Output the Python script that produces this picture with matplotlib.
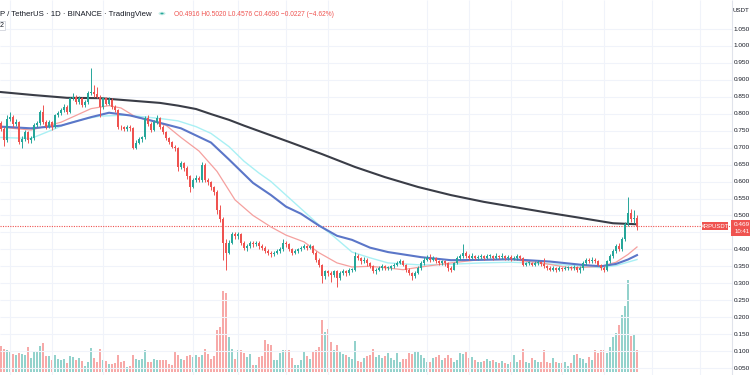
import matplotlib
matplotlib.use('Agg')
import matplotlib.pyplot as plt
from matplotlib.patches import Rectangle, Circle

# XRPUSDT daily candles, oldest first; each open is the previous close
first_open = 0.772
closes = [
    .755, .722, .785, .790, .770, .775, .718, .725, .745, .722,
    .727, .767, .772, .806, .776, .762, .776, .762, .796, .801,
    .811, .821, .806, .845, .850, .835, .845, .826, .835, .860,
    .865, .858, .850, .821, .845, .830, .842, .821, .811, .762,
    .760, .755, .760, .757, .700, .715, .725, .730, .786, .771,
    .752, .776, .786, .762, .747, .727, .717, .703, .698, .644,
    .654, .640, .615, .585, .605, .610, .605, .650, .605, .598,
    .583, .570, .516, .490, .418, .390, .420, .445, .438, .445,
    .420, .405, .410, .420, .415, .420, .410, .405, .395, .390,
    .385, .390, .395, .400, .420, .415, .400, .390, .395, .400,
    .405, .410, .405, .410, .390, .370, .355, .320, .335, .330,
    .325, .335, .315, .330, .335, .330, .340, .340, .380, .375,
    .365, .370, .360, .350, .335, .340, .345, .350, .345, .345,
    .350, .355, .360, .365, .355, .340, .330, .320, .330, .345,
    .360, .370, .375, .370, .375, .365, .360, .365, .360, .345,
    .340, .360, .375, .380, .390, .380, .375, .380, .375, .378,
    .380, .375, .380, .380, .375, .380, .378, .380, .375, .378,
    .372, .375, .380, .375, .355, .360, .360, .355, .360, .362,
    .358, .350, .345, .340, .345, .340, .345, .343, .345, .347,
    .345, .348, .340, .345, .360, .370, .365, .370, .365, .355,
    .345, .340, .365, .380, .395, .410, .400, .430, .475, .507,
    .490, .4917, .469,
]
highs = [
    .780, .760, .795, .805, .795, .785, .778, .735, .752, .750,
    .735, .772, .780, .812, .825, .782, .782, .780, .800, .808,
    .818, .828, .826, .850, .862, .855, .852, .850, .842, .866,
    .934, .885, .880, .855, .850, .850, .848, .846, .826, .815,
    .768, .765, .766, .768, .760, .722, .730, .735, .792, .795,
    .776, .782, .795, .790, .766, .750, .732, .720, .708, .702,
    .662, .658, .645, .620, .610, .618, .615, .658, .655, .610,
    .602, .588, .575, .530, .495, .430, .428, .452, .450, .450,
    .448, .425, .415, .425, .425, .426, .424, .415, .410, .400,
    .395, .396, .400, .406, .432, .425, .418, .404, .400, .405,
    .410, .416, .414, .416, .414, .394, .374, .358, .340, .340,
    .336, .340, .338, .336, .342, .340, .345, .346, .392, .386,
    .378, .376, .374, .364, .354, .345, .350, .356, .355, .350,
    .355, .360, .366, .372, .368, .358, .344, .334, .336, .350,
    .365, .376, .382, .385, .380, .378, .370, .370, .368, .362,
    .350, .364, .380, .386, .415, .395, .385, .390, .384, .383,
    .386, .384, .385, .386, .384, .388, .384, .390, .384, .383,
    .382, .380, .385, .384, .378, .364, .365, .363, .366, .368,
    .366, .375, .354, .350, .350, .348, .350, .349, .350, .352,
    .350, .353, .350, .350, .365, .375, .374, .376, .374, .368,
    .358, .350, .370, .386, .400, .415, .418, .435, .480, .553,
    .520, .515, .502,
]
lows = [
    .748, .705, .718, .778, .762, .765, .712, .700, .720, .715,
    .715, .724, .760, .768, .770, .755, .758, .752, .758, .790,
    .796, .805, .800, .802, .840, .830, .830, .820, .820, .830,
    .855, .850, .845, .791, .815, .825, .825, .815, .805, .755,
    .752, .750, .750, .750, .695, .695, .710, .718, .725, .765,
    .745, .748, .770, .755, .740, .722, .710, .698, .690, .630,
    .638, .632, .608, .570, .580, .600, .598, .600, .600, .590,
    .575, .560, .505, .480, .369, .339, .385, .415, .430, .430,
    .412, .398, .395, .405, .408, .410, .402, .398, .388, .383,
    .378, .380, .385, .390, .396, .408, .395, .384, .385, .390,
    .396, .400, .398, .400, .385, .364, .348, .300, .312, .322,
    .305, .318, .290, .310, .325, .322, .325, .332, .336, .368,
    .358, .360, .352, .345, .330, .328, .335, .340, .338, .338,
    .340, .345, .350, .356, .350, .334, .324, .310, .316, .326,
    .340, .355, .365, .364, .365, .360, .354, .355, .352, .335,
    .334, .338, .356, .370, .375, .374, .370, .372, .370, .370,
    .372, .370, .372, .374, .370, .372, .372, .373, .370, .370,
    .366, .368, .370, .370, .350, .350, .354, .350, .350, .355,
    .352, .345, .340, .335, .336, .334, .336, .337, .338, .340,
    .340, .340, .334, .330, .340, .355, .360, .360, .360, .350,
    .340, .332, .336, .360, .375, .390, .395, .396, .425, .468,
    .482, .478, .4576,
]
volumes = [
    26, 23, 22, 21, 18, 17, 19, 18, 17, 25,
    14, 20, 20, 26, 29, 16, 16, 12, 17, 13,
    12, 13, 9, 16, 15, 12, 14, 11, 6, 10,
    24, 14, 10, 23, 12, 11, 8, 8, 9, 17,
    10, 11, 5, 6, 17, 13, 12, 13, 22, 10,
    10, 13, 12, 12, 12, 12, 8, 7, 20, 17,
    13, 12, 16, 17, 15, 17, 15, 17, 23, 18,
    13, 16, 42, 45, 81, 79, 35, 23, 13, 22,
    22, 19, 15, 18, 7, 7, 15, 16, 32, 28,
    27, 12, 12, 19, 22, 22, 22, 14, 7, 7,
    12, 21, 16, 13, 20, 22, 25, 52, 40, 43,
    30, 22, 27, 20, 18, 17, 15, 13, 31, 11,
    10, 14, 16, 17, 23, 15, 17, 14, 16, 19,
    14, 12, 19, 10, 13, 13, 19, 18, 20, 21,
    17, 14, 10, 10, 14, 15, 17, 12, 14, 17,
    14, 10, 12, 19, 18, 20, 14, 15, 12, 10,
    10, 11, 13, 11, 12, 10, 9, 11, 9, 8,
    10, 17, 10, 12, 23, 10, 9, 14, 12, 10,
    10, 22, 10, 9, 14, 10, 9, 9, 10, 6,
    9, 17, 18, 14, 13, 9, 15, 12, 22, 19,
    22, 22, 19, 25, 35, 39, 47, 57, 66, 92,
    36, 38, 22,
]

# moving averages at a few candle positions
ma200_idx = [0, 11, 22, 33, 43, 53, 59, 65, 70, 76, 81, 86, 96, 107, 118, 128, 139, 150, 161, 171, 181, 193, 204, 212]
ma200 = [.864, .855, .847, .846, .839, .832, .824, .814, .799, .782, .765, .749, .717, .681, .643, .613, .584, .560, .540, .525, .510, .493, .477, .474]

ma50_idx = [0, 10, 20, 30, 36, 43, 50, 60, 70, 76, 84, 90, 95, 100, 106, 112, 117, 123, 129, 140, 150, 160, 170, 183, 194, 200, 205, 209, 212]
ma50 = [.762, .757, .765, .790, .803, .795, .780, .757, .715, .665, .596, .560, .526, .505, .470, .440, .428, .405, .392, .377, .368, .369, .371, .364, .354, .350, .357, .370, .383]

ma100_idx = [0, 10, 17, 22, 27, 33, 42, 53, 59, 65, 70, 76, 81, 86, 90, 95, 100, 106, 110, 117, 123, 129, 140, 150, 160, 170, 183, 194, 200, 205, 212]
ma100 = [.730, .727, .752, .771, .783, .793, .796, .786, .779, .762, .742, .703, .660, .625, .600, .560, .520, .472, .445, .392, .375, .360, .354, .356, .360, .362, .357, .350, .346, .352, .370]

ma20_idx = [0, 10, 20, 30, 36, 40, 45, 50, 55, 60, 66, 72, 78, 84, 90, 95, 101, 106, 112, 117, 123, 129, 134, 140, 150, 160, 170, 180, 190, 200, 205, 209, 212]
ma20 = [.760, .752, .775, .815, .824, .817, .790, .780, .766, .730, .690, .630, .546, .500, .466, .442, .422, .390, .360, .348, .350, .345, .340, .348, .360, .370, .370, .360, .345, .350, .362, .385, .407]

price_ticks = [1.05, 1.00, .95, .90, .85, .80, .75, .70, .65, .60, .55, .50,
               .40, .35, .30, .25, .20, .15, .10, .05]
month_lines = [3, 17, 34, 64, 79, 95, 109, 142, 156, 170, 187, 201, 217, 233]
last_price = 0.469

header = "P / TetherUS · 1D · BINANCE · TradingView"
ohlc_text = "O0.4916 H0.5020 L0.4576 C0.4690 \u22120.0227 (\u22124.62%)"

UP, DOWN = '#26a69a', '#ef5350'
UP_VOL, DOWN_VOL = '#93d2cc', '#f7a9a8'
GRID = '#f0f3fa'
TXT = '#131722'
FONT = 'Liberation Sans'

W, H = 750, 375
X0 = -1 / 3  # one candle = 3 px
SCALE_R = 749.5  # right edge for the price scale texts


def xi(px):
    return X0 + px / 3


fig = plt.figure(figsize=(W / 100, H / 100), dpi=100)
fig.patch.set_facecolor('white')
ax = fig.add_axes([0, 0, 1, 1])
ax.set_xlim(X0, X0 + W / 3)
ax.set_ylim(1.05 - 346 / 339, 1.05 + 29 / 339)
ax.axis('off')

axv = ax.twinx()
axv.set_ylim(-3, 372)
axv.axis('off')
ax.set_zorder(axv.get_zorder() + 1)
ax.patch.set_visible(False)

# grid
for p in price_ticks + [0.45]:
    ax.hlines(p, X0, xi(732), colors=GRID, lw=0.8, zorder=0)
for m in month_lines:
    ax.vlines(m, *ax.get_ylim(), colors=GRID, lw=0.8, zorder=0)

opens = [first_open] + closes[:-1]
idx = list(range(len(closes)))
up = [c >= o for o, c in zip(opens, closes)]

# volume
axv.bar(idx, volumes, width=0.72, color=[UP_VOL if u else DOWN_VOL for u in up], lw=0)

# moving averages
ax.plot(ma100_idx, ma100, color='#a9f0f4', lw=1.0, zorder=2)
ax.plot(ma20_idx, ma20, color='#f5a09e', lw=0.9, zorder=2)
ax.plot(ma50_idx, ma50, color='#5b76c8', lw=1.5, zorder=2)
ax.plot(ma200_idx, ma200, color='#3a3d47', lw=1.5, zorder=2)

# candles
cols = [UP if u else DOWN for u in up]
ax.vlines(idx, lows, highs, colors=cols, lw=0.7, zorder=3)
bottoms = [min(o, c) for o, c in zip(opens, closes)]
heights = [max(abs(c - o), 0.002) for o, c in zip(opens, closes)]
ax.bar(idx, heights, bottom=bottoms, width=0.68, color=cols, lw=0, zorder=3)

# last price line
ax.hlines(last_price, X0, xi(732), colors=DOWN, lw=0.8, linestyles=(0, (1, 1.2)), zorder=1)

# right price scale
ax.vlines(xi(732), *ax.get_ylim(), colors='#e0e3eb', lw=0.8)
for p in price_ticks:
    ax.text(xi(SCALE_R), p, f"{p:.3f}", fontsize=4.6, color=TXT, va='center', ha='right',
            family=FONT)
fig.text(SCALE_R / W, 1 - 10 / H, "USDT", fontsize=4.4, color=TXT, va='center', ha='right',
         family=FONT)

# symbol and price labels
fig.patches.append(Rectangle((702 / W, 1 - 230 / H), 26 / W, 8 / H, transform=fig.transFigure,
                             facecolor=DOWN, edgecolor='none'))
fig.text(715 / W, 1 - 226 / H, "XRPUSDT", fontsize=4.2, color='white', ha='center', va='center',
         family=FONT)
fig.patches.append(Rectangle((731 / W, 1 - 236 / H), 19 / W, 16 / H, transform=fig.transFigure,
                             facecolor=DOWN, edgecolor='none'))
fig.text(SCALE_R / W, 1 - 224.5 / H, f"{last_price:.3f}", fontsize=4.6, color='white', ha='right',
         va='center', family=FONT)
fig.text(SCALE_R / W, 1 - 231.5 / H, "10:41", fontsize=4.3, color='white', ha='right',
         va='center', family=FONT)

# header
fig.text(0, 1 - 14 / H, header, fontsize=5.6, color=TXT, va='center', ha='left', family=FONT)
fig.patches.append(Circle((162 / W, 1 - 13.5 / H), 3.5 / W, transform=fig.transFigure,
                          facecolor='#c8ece6', edgecolor='none'))
fig.patches.append(Circle((162 / W, 1 - 13.5 / H), 1.6 / W, transform=fig.transFigure,
                          facecolor=UP, edgecolor='none'))
fig.text(174 / W, 1 - 14 / H, ohlc_text, fontsize=4.8, color=DOWN, va='center', ha='left',
         family=FONT)
fig.patches.append(Rectangle((-2 / W, 1 - 30 / H), 7 / W, 9 / H, transform=fig.transFigure,
                             facecolor='white', edgecolor='#d1d4dc', lw=0.6))
fig.text(2 / W, 1 - 25.5 / H, "2", fontsize=5, color=TXT, va='center', ha='center', family=FONT)

fig.savefig('out.png', dpi=100)
